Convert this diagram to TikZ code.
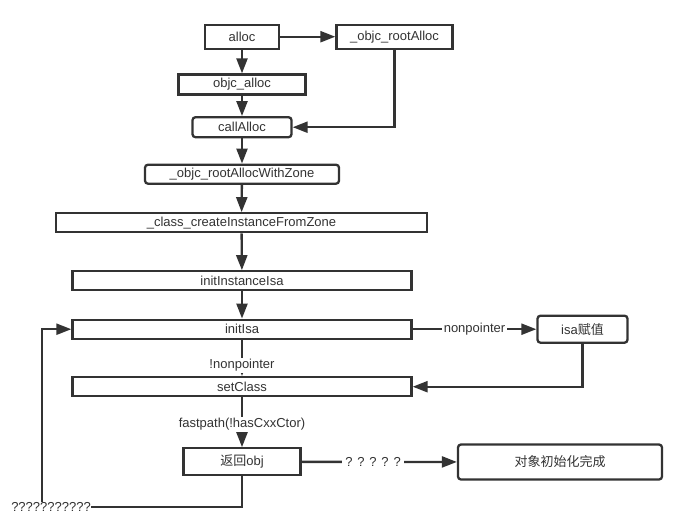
\documentclass[tikz,border=0pt]{standalone}
\usepackage{fontspec}
\setmainfont{Liberation Sans}
\newfontfamily\cjk{Noto Sans CJK SC}
\usetikzlibrary{arrows.meta, positioning}
\definecolor{ink}{HTML}{333333}

\begin{document}
\begin{tikzpicture}[x=1pt, y=-1pt, >={Triangle[length=15pt, width=11pt]},
  box/.style={draw=ink, line width=2.3pt, rectangle, inner sep=0pt, text=ink, font=\fontsize{13}{15}\selectfont},
  rbox/.style={box, rounded corners=3pt},
  lbl/.style={fill=white, inner sep=1.5pt, text=ink, font=\fontsize{13}{15}\selectfont},
  flow/.style={->, draw=ink, line width=2.3pt}]

% Background
\fill[white] (0,0) rectangle (687,531);
\useasboundingbox (0,0) rectangle (687,531);

% ========== Allocation chain ==========
\node[box, minimum width=74, minimum height=24] (alloc) at (242,36.7) {alloc};
\node[box, minimum width=116, minimum height=24] (rootAlloc) at (394.5,36.7) {\_objc\_rootAlloc};
\node[box, minimum width=127, minimum height=20] (objcAlloc) at (242,84.5) {objc\_alloc};
\node[rbox, minimum width=99, minimum height=20] (callAlloc) at (242,127.2) {callAlloc};
\node[rbox, minimum width=194, minimum height=19] (rootAllocZone) at (242,174.2) {\_objc\_rootAllocWithZone};
\node[box, minimum width=371, minimum height=19] (createInst) at (241.5,222.8) {\_class\_createInstanceFromZone};

% ========== isa setup ==========
\node[box, minimum width=339, minimum height=19] (initInstIsa) at (242,280.8) {initInstanceIsa};
\node[box, minimum width=339, minimum height=19] (initIsa) at (242,329.2) {initIsa};
\node[rbox, minimum width=90, minimum height=27] (isaSet) at (582.5,329.2) {isa{\cjk 赋值}};
\node[box, minimum width=339, minimum height=19] (setClass) at (242,386.7) {setClass};

% ========== Result ==========
\node[box, minimum width=117, minimum height=27] (retObj) at (242,461.8) {{\cjk 返回}obj};
\node[rbox, minimum width=204, minimum height=35] (done) at (560,462) {{\cjk 对象初始化完成}};
\node[lbl, inner sep=0pt, anchor=east] (loopLbl) at (91,506.7) {???????????};
\coordinate (loopX) at (42,0);

% Connectors
\draw[flow] (alloc) -- (rootAlloc);
\draw[flow] (alloc) -- (objcAlloc);
\draw[flow] (objcAlloc) -- (callAlloc);
\draw[flow] (rootAlloc) |- (callAlloc);
\draw[flow] (callAlloc) -- (rootAllocZone);
\draw[flow] (rootAllocZone) -- (createInst);
\draw[flow] (createInst) -- (initInstIsa);
\draw[flow] (initInstIsa) -- (initIsa);
\draw[flow] (initIsa) -- node[lbl] {nonpointer} (isaSet);
\draw[flow] (initIsa) -- node[lbl, pos=0.7] {!nonpointer} (setClass);
\draw[flow] (isaSet) |- (setClass);
\draw[flow] (setClass) -- node[lbl, pos=0.54] {fastpath(!hasCxxCtor)} (retObj);
\draw[flow] (retObj) -- node[lbl, pos=0.46, inner sep=3pt] {? ? ? ? ?} (done);

% Loop back to initIsa
\draw[ink, line width=2.3pt] (retObj) |- (loopLbl);
\draw[flow] (loopLbl.north -| loopX) |- (initIsa);

\end{tikzpicture}
\end{document}
